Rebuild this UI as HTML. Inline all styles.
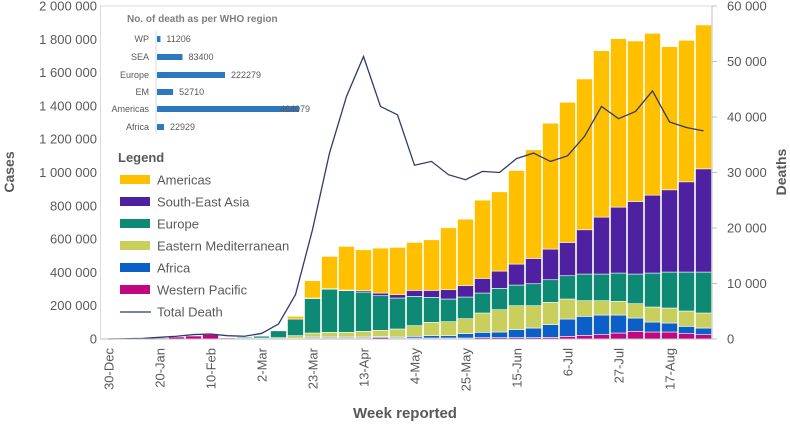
<!DOCTYPE html>
<html><head><meta charset="utf-8"><style>
body{margin:0;background:#fff;}
svg{display:block;font-family:"Liberation Sans",sans-serif;}
</style></head><body>
<svg id="chart" width="790" height="425" viewBox="0 0 790 425">
<g id="bars"></g>
<g id="axes"></g>
<g id="inset"></g>
<g id="legend"></g>
</svg>
<script>
const weeks = ["30-Dec","6-Jan","13-Jan","20-Jan","27-Jan","3-Feb","10-Feb","17-Feb","24-Feb","2-Mar","9-Mar","16-Mar","23-Mar","30-Mar","6-Apr","13-Apr","20-Apr","27-Apr","4-May","11-May","18-May","25-May","1-Jun","8-Jun","15-Jun","22-Jun","29-Jun","6-Jul","13-Jul","20-Jul","27-Jul","3-Aug","10-Aug","17-Aug","24-Aug","31-Aug"];
// cases in thousands
const westernPacific = [0,1,3,6,12,18,28,6,2,2,2,3,6,6,6,6,8,6,6,6,6,6,8,8,8,8,10,16,22,26,36,46,42,42,32,26];
const africa = [0,0,0,0,0,0,0,0,0,0,1,2,6,6,6,6,6,6,10,14,14,26,32,34,48,58,76,104,114,118,108,80,60,54,44,40];
const easternMed = [0,0,0,0,0,0,0,0,2,4,5,15,24,28,28,34,38,48,64,80,84,90,116,134,144,134,134,120,94,86,82,86,90,90,92,90];
const europe = [0,0,0,0,0,0,0,0,6,12,42,100,208,260,250,236,208,186,176,150,136,130,120,128,124,132,136,140,160,160,170,178,204,216,234,246];
const seAsia = [0,0,0,0,0,0,0,0,0,0,0,0,2,2,4,8,16,20,36,42,56,68,88,104,126,152,184,200,266,342,396,436,468,494,542,620];
const americas = [0,0,0,0,0,0,0,0,0,2,2,16,104,194,262,246,270,284,288,304,372,400,470,476,562,652,756,842,906,1000,1012,964,972,860,850,864];
// deaths in thousands
const totalDeaths = [0,0.05,0.1,0.3,0.5,0.8,0.9,0.6,0.5,1.0,2.7,8.0,19.7,33.5,43.7,50.9,41.9,40.4,31.3,32.0,29.6,28.7,30.2,30.0,32.5,33.5,32.0,33.0,36.5,41.9,39.7,41.0,44.7,39.1,38.1,37.5];
const leftTicks = ["0","200 000","400 000","600 000","800 000","1 000 000","1 200 000","1 400 000","1 600 000","1 800 000","2 000 000"];
const rightTicks = ["0","10 000","20 000","30 000","40 000","50 000","60 000"];
const regionNames = ["WP","SEA","Europe","EM","Americas","Africa"];
const regionDeaths = [11206,83400,222279,52710,464079,22929];

const NS="http://www.w3.org/2000/svg";
const X0=100, BW=17, Y0=339, YT=6;
const yCases = v => Y0 - v/2000*(Y0-YT);
const yDeaths = v => Y0 - v/60*(Y0-YT);
const xBand = i => X0 + i*BW;
function mk(tag, attrs, parent){const e=document.createElementNS(NS,tag);for(const k in attrs)e.setAttribute(k,attrs[k]);parent.appendChild(e);return e;}

const series=[["western-pacific",westernPacific,"#c2067f"],["africa",africa,"#0b5fc6"],["eastern-mediterranean",easternMed,"#c9cf5c"],["europe",europe,"#0e8a74"],["south-east-asia",seAsia,"#4d21a0"],["americas",americas,"#ffc000"]];
const bars=document.getElementById('bars');
weeks.forEach((w,i)=>{
  let cum=0;
  series.forEach(s=>{
    const v=s[1][i]; if(v<=0) return;
    const y1=yCases(cum), y2=yCases(cum+v);
    const r=mk('rect',{x:xBand(i)+0.5,y:y2,width:BW-1,height:Math.max(0.5,y1-y2),fill:s[2],stroke:"#fff","stroke-width":0.6},bars);
    
    
    cum+=v;
  });
});
const pts=totalDeaths.map((d,i)=>(xBand(i)+BW/2)+","+yDeaths(d)).join(" ");
const line=mk('polyline',{points:pts,fill:"none",stroke:"#2f3b6c","stroke-width":1.3},bars);



const axes=document.getElementById('axes');
const X1=X0+36*BW;
mk('line',{x1:X0,y1:YT,x2:X1,y2:YT,stroke:"#d9d9d9"},axes);
mk('line',{x1:X0,y1:Y0,x2:X1,y2:Y0,stroke:"#bfbfbf"},axes);
mk('line',{x1:X0+0.5,y1:YT,x2:X0+0.5,y2:Y0,stroke:"#d9d9d9"},axes);
mk('line',{x1:X1,y1:YT,x2:X1,y2:Y0,stroke:"#bfbfbf"},axes);
leftTicks.forEach((t,i)=>{
  const tx=mk('text',{x:97,y:yCases(i*200)+4.5,"text-anchor":"end","font-size":13,fill:"#595959"},axes);
  tx.textContent=t;
  
  
});
rightTicks.forEach((t,i)=>{
  const y=yDeaths(i*10);
  mk('line',{x1:X1,y1:y,x2:X1+5,y2:y,stroke:"#bfbfbf"},axes);
  const tx=mk('text',{x:727,y:y+4.5,"font-size":13,fill:"#595959"},axes);
  tx.textContent=t;
  
  
});
weeks.forEach((w,i)=>{
  if(i%3!==0) return;
  const cx=xBand(i)+BW/2+5;
  const tx=mk('text',{x:0,y:0,"text-anchor":"end","font-size":13,fill:"#595959",transform:`translate(${cx},348) rotate(-90)`},axes);
  tx.textContent=w;
  
  
});
let t=mk('text',{x:405,y:418,"text-anchor":"middle","font-size":15,"font-weight":"bold",fill:"#595959"},axes);
t.textContent="Week reported";


t=mk('text',{x:0,y:0,"text-anchor":"middle","font-size":14,"font-weight":"bold",fill:"#595959",transform:"translate(14,172) rotate(-90)"},axes);
t.textContent="Cases";


t=mk('text',{x:0,y:0,"text-anchor":"middle","font-size":14,"font-weight":"bold",fill:"#595959",transform:"translate(786,172) rotate(-90)"},axes);
t.textContent="Deaths";



const inset=document.getElementById('inset');
t=mk('text',{x:127,y:22,"font-size":10,"font-weight":"bold",fill:"#7f7f7f"},inset);
t.textContent="No. of death as per WHO region";


const rowY=[39,57,75,92,109,127];
mk('line',{x1:156,y1:31,x2:156,y2:134,stroke:"#d9d9d9"},inset);
regionNames.forEach((r,i)=>{
  const y=rowY[i];
  const l=mk('text',{x:149,y:y+3,"text-anchor":"end","font-size":9,fill:"#595959"},inset);
  l.textContent=r;
  
  
  const w=regionDeaths[i]/464079*142;
  const b=mk('rect',{x:157,y:y-3,width:w,height:6,fill:"#2e78c0"},inset);
  
  
  const v=mk('text',{x:(i===4?280:157+w+6),y:y+3,"font-size":9,fill:"#595959"},inset);
  v.textContent=String(regionDeaths[i]);
  
  
});

const lg=document.getElementById('legend');
t=mk('text',{x:118,y:162,"font-size":13,"font-weight":"bold",fill:"#595959"},lg);
t.textContent="Legend";


const legItems=[["Americas","#ffc000"],["South-East Asia","#4d21a0"],["Europe","#0e8a74"],["Eastern Mediterranean","#c9cf5c"],["Africa","#0b5fc6"],["Western Pacific","#c2067f"],["Total Death",null]];
legItems.forEach((it,i)=>{
  const y=180+i*22;
  const g=mk('g',{},lg);
  
  
  if(it[1]) mk('rect',{x:120,y:y-5,width:30,height:9,fill:it[1]},g);
  else mk('line',{x1:120,y1:y,x2:151,y2:y,stroke:"#2f3b6c","stroke-width":1.3},g);
  const tx=mk('text',{x:157,y:y+4.5,"font-size":13,fill:"#595959"},g);
  tx.textContent=it[0];
});
</script>
</body></html>
